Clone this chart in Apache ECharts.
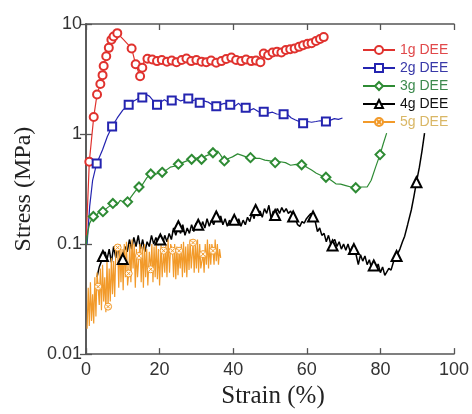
<!DOCTYPE html>
<html>
<head>
<meta charset="utf-8">
<script src="https://cdn.jsdelivr.net/npm/echarts@6/dist/echarts.min.js"></script>
<style>
html,body{margin:0;padding:0;background:#fff;}
#chart{width:472px;height:414px;}
</style>
</head>
<body>
<div id="chart"></div>
<script>
// ---------- DATA ----------
const seriesNames = ['1g DEE', '2g DEE', '3g DEE', '4g DEE', '5g DEE'];
const xTicks = [0, 20, 40, 60, 80, 100];
const yTicks = [0.01, 0.1, 1, 10];

// 1g DEE
const s1Strain = [0.1,0.9,2.1,3.0,3.9,4.5,4.8,5.5,6.2,6.9,7.5,8.5,10.2,12.4,13.5,14.7,15.3,15.8,16.7,18.0,19.3,20.6,22.0,23.3,24.6,26.0,27.3,28.6,30.0,31.4,32.7,34.0,35.4,36.8,38.1,39.5,40.8,42.2,43.5,44.9,46.2,47.4,48.3,49.5,50.7,51.9,53.1,54.3,55.5,56.7,57.9,59.0,60.2,61.3,62.5,63.6,64.6];
const s1Stress = [0.12,0.56,1.43,2.29,2.85,3.43,4.16,5.1,6.07,7.2,7.7,8.26,7.2,6.0,4.3,3.35,4.0,4.6,4.84,4.75,4.6,4.7,4.55,4.65,4.5,4.7,4.85,4.6,4.7,4.55,4.5,4.65,4.45,4.6,4.8,4.95,4.7,4.6,4.75,4.6,4.65,4.5,5.4,5.2,5.5,5.6,5.5,5.8,5.9,6.0,6.2,6.4,6.6,6.7,7.0,7.3,7.6];
const s1Marks = [0.9,2.1,3.0,3.9,4.5,4.8,5.5,6.2,6.9,7.5,8.5,12.4,13.5,14.7,15.3,16.7,18.0,19.3,20.6,22.0,23.3,24.6,26.0,27.3,28.6,30.0,31.4,32.7,34.0,35.4,36.8,38.1,39.5,40.8,42.2,43.5,44.9,46.2,47.4,48.3,49.5,50.7,51.9,53.1,54.3,55.5,56.7,57.9,59.0,60.2,61.3,62.5,63.6,64.6];

// 2g DEE
const s2Strain = [0.3,1.0,1.8,2.9,4.5,5.8,7.1,8.5,10.0,11.6,13.0,14.2,15.3,16.3,17.3,18.3,19.3,20.3,21.3,22.3,23.3,24.5,25.7,26.8,27.8,28.8,29.8,30.9,32.0,33.2,34.3,35.4,36.5,37.6,39.2,40.5,41.5,42.5,43.4,44.6,45.6,46.8,48.3,49.5,50.7,51.8,53.7,54.8,55.8,56.8,57.9,59.0,60.2,61.3,62.5,63.6,65.2,66.3,67.5,68.6,69.7];
const s2Stress = [0.1,0.22,0.38,0.54,0.72,0.95,1.17,1.4,1.65,1.85,2.0,2.1,2.15,2.3,2.2,2.0,1.85,1.95,2.05,1.95,2.02,2.1,2.0,2.05,2.1,2.0,2.05,1.92,2.0,1.95,1.85,1.79,1.85,1.9,1.85,1.8,1.9,1.75,1.73,1.65,1.7,1.6,1.59,1.55,1.58,1.52,1.51,1.5,1.4,1.35,1.3,1.25,1.3,1.28,1.3,1.32,1.3,1.33,1.38,1.36,1.4];
const s2Marks = [2.9,7.1,11.6,15.3,19.3,23.3,27.8,30.9,35.4,39.2,43.4,48.3,53.7,59.0,65.2];

// 3g DEE
const s3Strain = [0.1,0.5,1.0,2.0,3.0,3.7,4.6,5.5,6.3,7.3,8.3,9.3,10.3,11.3,12.3,13.3,14.4,15.4,16.5,17.6,18.7,19.7,20.7,21.8,22.9,24.0,25.1,26.2,27.4,28.7,29.8,30.9,31.4,32.4,33.5,34.5,35.8,36.5,37.6,38.7,39.8,41.2,42.4,43.5,44.7,46.0,47.3,48.6,50.0,51.4,52.8,54.2,55.6,57.1,58.6,60.0,61.3,62.6,63.9,65.2,66.6,67.9,69.2,70.6,72.0,73.3,74.8,76.4,77.5,78.7,79.9,80.8,81.7];
const s3Stress = [0.1,0.13,0.155,0.178,0.185,0.2,0.197,0.21,0.22,0.234,0.225,0.25,0.24,0.242,0.27,0.3,0.33,0.35,0.4,0.433,0.43,0.44,0.449,0.47,0.5,0.51,0.532,0.55,0.57,0.589,0.6,0.62,0.589,0.63,0.65,0.676,0.7,0.65,0.57,0.6,0.62,0.66,0.64,0.62,0.61,0.6,0.6,0.58,0.57,0.55,0.56,0.55,0.52,0.53,0.525,0.5,0.47,0.44,0.42,0.405,0.38,0.353,0.35,0.34,0.33,0.325,0.33,0.33,0.38,0.5,0.65,0.82,1.02];
const s3Marks = [2.0,4.6,7.3,11.3,14.4,17.6,20.7,25.1,28.7,31.4,34.5,37.6,44.7,51.4,58.6,65.2,73.3,79.9];

// 4g DEE
const s4Strain = [3.0,3.6,4.2,4.6,5.2,5.7,6.3,6.9,7.5,8.1,8.7,9.3,10.0,10.6,11.2,11.8,12.4,13.0,13.6,14.2,14.8,15.4,16.0,16.6,17.2,17.8,18.4,19.0,19.6,20.2,20.8,21.4,22.0,22.6,23.2,23.8,24.4,25.1,25.7,26.3,26.9,27.5,28.1,28.7,29.3,29.9,30.5,31.1,31.7,32.3,32.9,33.5,34.1,34.7,35.4,36.0,36.6,37.2,37.8,38.4,39.0,39.6,40.3,40.9,41.5,42.1,42.7,43.3,43.9,44.5,45.1,45.7,46.1,46.7,47.3,47.9,48.5,49.1,49.7,50.3,50.9,51.4,52.0,52.6,53.2,53.8,54.4,55.0,55.6,56.3,56.9,57.5,58.1,58.7,59.3,59.9,60.5,61.1,61.7,62.3,62.9,63.5,64.1,64.7,65.3,65.9,66.5,67.0,67.6,68.2,68.8,69.4,70.0,70.6,71.2,71.8,72.4,72.8,73.4,74.0,74.6,75.2,75.8,76.4,77.0,77.6,78.2,78.8,79.4,80.0,80.6,81.2,81.7,82.3,82.9,83.5,84.4,85.3,86.0,86.6,87.4,88.4,89.1,89.8,90.6,91.3,92.0];
const s4Stress = [0.05,0.062,0.07,0.078,0.085,0.072,0.09,0.068,0.095,0.075,0.1,0.07,0.073,0.095,0.085,0.11,0.09,0.115,0.095,0.12,0.09,0.11,0.085,0.105,0.095,0.12,0.1,0.115,0.098,0.11,0.1,0.12,0.105,0.125,0.11,0.14,0.12,0.145,0.125,0.15,0.12,0.14,0.125,0.15,0.13,0.155,0.15,0.135,0.16,0.14,0.17,0.145,0.165,0.15,0.178,0.16,0.18,0.15,0.17,0.145,0.165,0.15,0.166,0.15,0.17,0.145,0.165,0.15,0.175,0.16,0.19,0.17,0.204,0.18,0.2,0.175,0.21,0.19,0.225,0.17,0.2,0.184,0.21,0.19,0.215,0.195,0.21,0.19,0.2,0.178,0.17,0.15,0.145,0.16,0.155,0.17,0.18,0.19,0.178,0.16,0.13,0.14,0.12,0.125,0.105,0.12,0.1,0.097,0.11,0.095,0.105,0.09,0.1,0.088,0.1,0.085,0.095,0.09,0.08,0.065,0.08,0.07,0.078,0.065,0.072,0.06,0.064,0.058,0.066,0.055,0.062,0.052,0.05,0.06,0.058,0.068,0.078,0.09,0.105,0.118,0.15,0.204,0.27,0.365,0.5,0.7,1.02];
const s4Marks = [4.6,10.0,20.2,25.1,30.5,35.4,40.3,46.1,51.4,56.3,61.7,67.0,72.8,78.2,84.4,89.8];

// 5g DEE
const s5Strain = [0.3,0.6,0.9,1.2,1.5,1.8,2.1,2.4,2.7,3.0,3.3,3.6,3.9,4.2,4.5,4.8,5.1,5.4,5.7,6.0,6.3,6.6,6.9,7.2,7.5,7.8,8.1,8.6,8.9,9.2,9.5,9.8,10.1,10.4,10.7,11.0,11.3,11.6,11.9,12.2,12.5,12.8,13.1,13.4,13.7,14.0,14.4,14.7,15.0,15.3,15.6,15.9,16.2,16.5,16.8,17.2,17.6,17.9,18.2,18.5,18.8,19.1,19.4,19.7,20.0,20.4,20.7,21.1,21.4,21.7,22.0,22.3,22.7,23.0,23.5,23.8,24.1,24.4,24.7,25.0,25.3,25.6,25.9,26.2,26.5,26.8,27.1,27.4,27.7,28.0,28.3,28.6,29.1,29.4,29.7,30.0,30.3,30.6,30.9,31.2,31.8,32.1,32.4,32.7,33.0,33.3,33.6,33.9,34.2,34.5,34.8,35.1,35.4,35.7,36.0,36.3,36.6];
const s5Stress = [0.017,0.04,0.018,0.045,0.02,0.035,0.019,0.05,0.022,0.055,0.041,0.028,0.06,0.025,0.065,0.03,0.05,0.024,0.07,0.027,0.06,0.03,0.075,0.035,0.07,0.033,0.085,0.093,0.04,0.1,0.045,0.09,0.038,0.1,0.05,0.105,0.042,0.054,0.1,0.045,0.11,0.06,0.1,0.04,0.09,0.05,0.078,0.1,0.045,0.095,0.04,0.1,0.05,0.09,0.042,0.085,0.059,0.1,0.045,0.095,0.05,0.105,0.048,0.09,0.042,0.1,0.05,0.087,0.055,0.1,0.05,0.11,0.055,0.1,0.087,0.05,0.1,0.048,0.095,0.052,0.087,0.06,0.1,0.05,0.105,0.055,0.095,0.05,0.1,0.058,0.11,0.06,0.103,0.055,0.1,0.06,0.11,0.055,0.1,0.06,0.081,0.055,0.1,0.065,0.11,0.06,0.1,0.065,0.1,0.087,0.065,0.11,0.07,0.1,0.065,0.09,0.075];
const s5Marks = [3.3,6.0,8.6,11.6,14.4,17.6,21.1,23.5,25.3,29.1,31.8,34.5];

// ---------- CHART ----------
const chart = echarts.init(document.getElementById('chart'), null, {renderer: 'canvas'});

const lineColors = ['#e0322e', '#2424b0', '#2e8b34', '#000000', '#f29a2a'];
const textColors = ['#e0484a', '#3838a8', '#3d8a4e', '#111111', '#d9b766'];
const symbols = ['emptyCircle', 'emptyRect', 'emptyDiamond', 'emptyTriangle',
  'path://M0,5A5,5 0 1,1 10,5A5,5 0 1,1 0,5ZM2.5,2.5L7.5,7.5M7.5,2.5L2.5,7.5'];
const symbolSizes = [8, 8, 9, 10, 7];
const widths = [1.2, 1.2, 1.2, 1.5, 1.2];

function build(i, xs, ys, marks) {
  const isPath = symbols[i].startsWith('path://');
  return {
    type: 'line',
    name: seriesNames[i],
    data: xs.map((x, k) => ({
      value: [x, ys[k]],
      symbol: marks.includes(x) ? symbols[i] : 'none'
    })),
    symbol: symbols[i],
    symbolSize: symbolSizes[i],
    showSymbol: true,
    lineStyle: {color: lineColors[i], width: widths[i]},
    itemStyle: isPath
      ? {color: '#fff8ee', borderColor: lineColors[i], borderWidth: 1}
      : {color: lineColors[i], borderColor: lineColors[i], borderWidth: 1},
    emphasis: {disabled: true},
    silent: true,
    animation: false,
    z: 2
  };
}

const frame = {color: '#555', width: 1.6};
const tick = {show: true, inside: true, length: 6, lineStyle: {color: '#555', width: 1.3}};

const logFmt = v => String(+(+v).toPrecision(3));

const option = {
  backgroundColor: '#fff',
  animation: false,
  grid: {left: 86, top: 24, width: 374, height: 336, containLabel: false},
  legend: {
    orient: 'vertical',
    left: 357,
    top: 38,
    itemWidth: 32,
    itemHeight: 10,
    itemGap: 4,
    selectedMode: false,
    textStyle: {fontSize: 14, fontFamily: 'Liberation Sans, Arial, sans-serif'},
    data: seriesNames.map((n, i) => ({name: n, textStyle: {color: textColors[i]}}))
  },
  xAxis: [
    {
      type: 'value', position: 'bottom', min: xTicks[0], max: xTicks[xTicks.length - 1], interval: 20,
      axisLine: {show: true, lineStyle: frame},
      axisTick: tick,
      axisLabel: {fontSize: 18, color: '#333', margin: 7, fontFamily: 'Liberation Sans, Arial, sans-serif'},
      splitLine: {show: false},
      name: 'Strain (%)', nameLocation: 'middle', nameGap: 28,
      nameTextStyle: {fontFamily: 'Liberation Serif, Times New Roman, serif', fontSize: 25, color: '#222', padding: [0, 0, 0, 6]}
    },
    {
      type: 'value', position: 'top', min: xTicks[0], max: xTicks[xTicks.length - 1], interval: 20,
      axisLine: {show: true, lineStyle: frame},
      axisTick: tick,
      axisLabel: {show: false},
      splitLine: {show: false}
    }
  ],
  yAxis: [
    {
      type: 'log', logBase: 10, position: 'left', min: yTicks[0], max: yTicks[yTicks.length - 1],
      axisLine: {show: true, lineStyle: frame},
      axisTick: tick,
      minorTick: {show: false},
      axisLabel: {fontSize: 18, color: '#333', margin: 4, formatter: logFmt, fontFamily: 'Liberation Sans, Arial, sans-serif'},
      splitLine: {show: false},
      name: 'Stress (MPa)', nameLocation: 'middle', nameGap: 46,
      nameTextStyle: {fontFamily: 'Liberation Serif, Times New Roman, serif', fontSize: 24, color: '#222'}
    },
    {
      type: 'log', logBase: 10, position: 'right', min: yTicks[0], max: yTicks[yTicks.length - 1],
      axisLine: {show: true, lineStyle: frame},
      axisTick: tick,
      axisLabel: {show: false},
      splitLine: {show: false}
    }
  ],
  series: [
    build(0, s1Strain, s1Stress, s1Marks),
    build(1, s2Strain, s2Stress, s2Marks),
    build(2, s3Strain, s3Stress, s3Marks),
    build(3, s4Strain, s4Stress, s4Marks),
    build(4, s5Strain, s5Stress, s5Marks)
  ]
};
chart.setOption(option);
</script>
</body>
</html>
